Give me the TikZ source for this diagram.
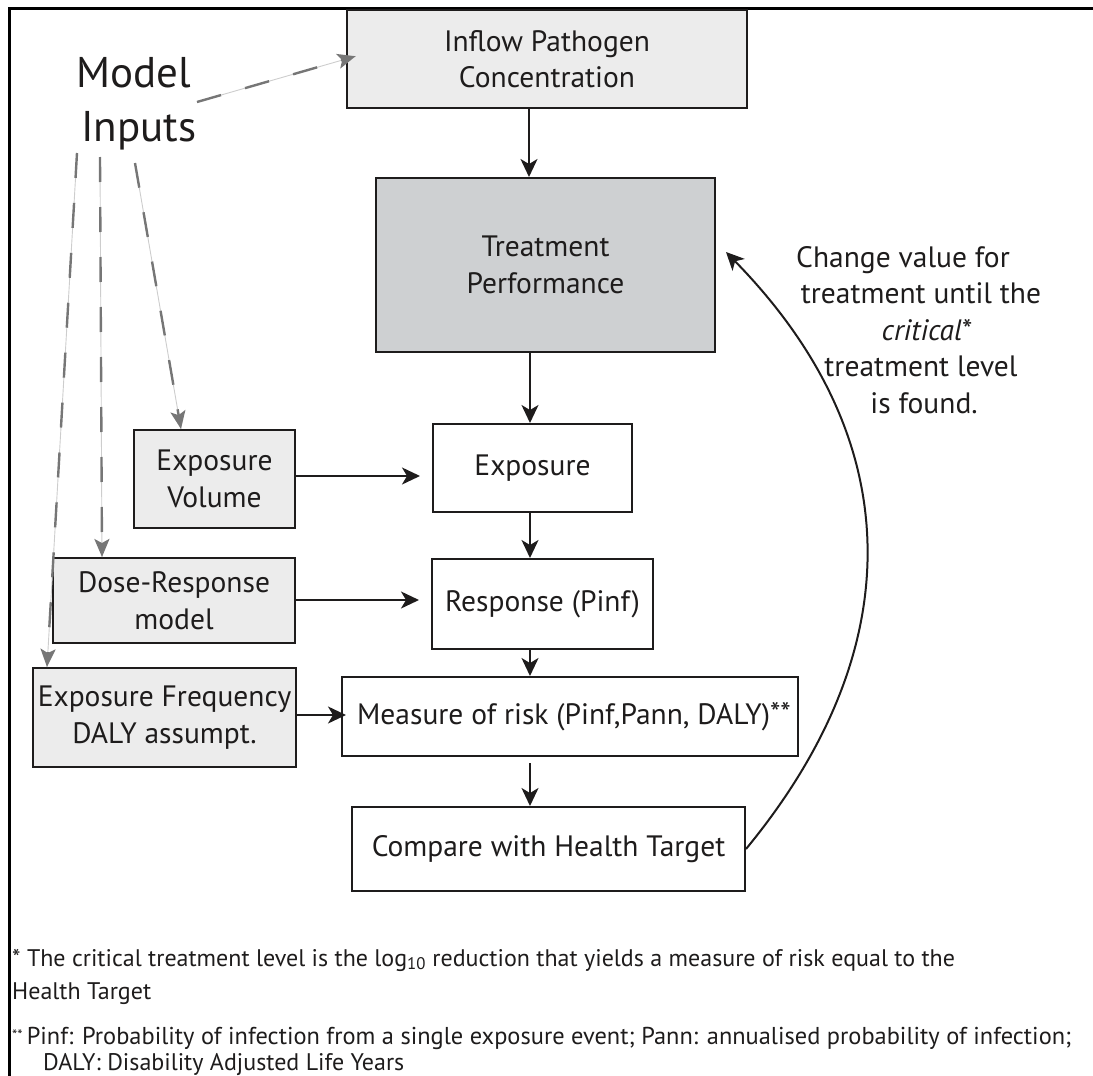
\documentclass[tikz,border=0pt]{standalone}
\usepackage{fontspec}
\setmainfont{PT Sans}
\usetikzlibrary{arrows.meta,calc}
\definecolor{boxfill}{RGB}{236,236,236}
\definecolor{tfill}{RGB}{206,208,210}
\definecolor{ink}{RGB}{30,28,28}
\definecolor{dashgray}{RGB}{118,118,118}
\definecolor{linegray}{RGB}{205,205,205}
\begin{document}
\begin{tikzpicture}[x=1pt,y=-1pt,
  box/.style={draw=ink, line width=2pt, inner sep=0pt, align=center, text=ink,
    font=\fontsize{29.5}{36.5}\selectfont},
  inbox/.style={box, fill=boxfill},
  flow/.style={draw=ink, line width=2pt, -{Stealth[length=18pt,width=17pt,inset=5pt]}},
  inarrow/.style={draw=dashgray, line width=2.4pt, dash pattern=on 25pt off 25pt,
    -{Stealth[length=18pt,width=15pt,inset=4pt,fill=dashgray]},
    preaction={draw=linegray, line width=0.9pt, solid, -}},
  fnote/.style={anchor=base west, inner sep=0pt, text=ink, font=\fontsize{24}{28}\selectfont}
]
\useasboundingbox (0,0) rectangle (1093,1076);
\begin{scope}
\clip (0,0) rectangle (1093,1076);
\draw[line width=3pt, black] (9.5,1100) -- (9.5,8.5) -- (1120,8.5);

% boxes
\node[inbox, minimum width=400pt, minimum height=98pt] (inflow) at (547,59) {Inflow Pathogen\\Concentration};
\node[box, fill=tfill, minimum width=339pt, minimum height=174pt] (treat) at (545.5,265) {Treatment\\Performance};
\node[inbox, minimum width=161pt, minimum height=98pt] (expvol) at (214.5,479) {Exposure\\Volume};
\node[inbox, minimum width=242pt, minimum height=85pt] (dose) at (174,600.5) {Dose-Response\\model};
\node[inbox, minimum width=263pt, minimum height=99pt] (expfreq) at (164.5,717.5) {Exposure Frequency\\DALY assumpt.};
\node[box, fill=white, minimum width=199pt, minimum height=88pt] (expo) at (532.5,468) {Exposure};
\node[box, fill=white, minimum width=221pt, minimum height=90pt] (resp) at (542.5,604) {Response (Pinf)};
\node[box, fill=white, minimum width=456pt, minimum height=79pt] (measure) at (570,716.5) {\hspace*{8pt}Measure of risk (Pinf,Pann, DALY)\raisebox{1pt}{**}};
\node[box, fill=white, minimum width=393pt, minimum height=84pt] (compare) at (548.5,849) {Compare with Health Target};

% model inputs label
\node[align=center, inner sep=0pt, text=ink, font=\fontsize{43}{54}\selectfont] (mi) at (134,104) {Model\\\hspace*{10pt}Inputs};
\coordinate (s1) at (197,102);
\coordinate (s2) at (77,153);
\coordinate (s3) at (100,157);
\coordinate (s4) at (135,163);

% dashed input arrows
\draw[inarrow, shorten >=-10pt] (s1) -- (inflow.west);
\draw[inarrow] (s2) -- ([xshift=15pt]expfreq.north west);
\draw[inarrow] (s3) -- ([xshift=50pt]dose.north west);
\draw[inarrow] (s4) -- ([xshift=48pt]expvol.north west);

% main flow
\draw[flow] (inflow.south -| 529,0) -- (treat.north -| 529,0);
\draw[flow] (treat.south -| 530,0) -- (expo.north -| 530,0);
\draw[flow] (expo.south -| 530,0) -- (resp.north -| 530,0);
\draw[flow] (resp.south -| 530,0) -- (measure.north -| 530,0);
\draw[flow, shorten <=6pt] (measure.south -| 530,0) -- (compare.north -| 530,0);

\draw[flow, shorten >=12pt] (expvol.east |- 0,476) -- (expo.west |- 0,476);
\draw[flow, shorten >=12pt] (dose.east |- 0,600) -- (resp.west |- 0,600);
\draw[flow, shorten >=-5pt] (expfreq.east |- 0,715) -- (measure.west |- 0,715);

% feedback curve
\draw[flow] (compare.east) .. controls (910,650) and (910,440) .. ([shift={(10,-13)}]treat.east);
\node[align=center, inner sep=0pt, text=ink, font=\fontsize{29.5}{36.6}\selectfont] (note) at (921,330)
  {Change value for\hspace*{36pt}\\treatment until the\\\hspace*{12pt}\textit{critical}*\\treatment level\\\hspace*{6pt}is found.};

% footnotes
\node[fnote] (fn1) at (12,966) {* The critical treatment level is the log\textsubscript{10} reduction that yields a measure of risk equal to the};
\node[fnote] (fn1b) at (12,999) {Health Target};
\node[fnote, font=\fontsize{24.4}{28}\selectfont] (fn2) at (12,1044) {\raisebox{4pt}{\fontsize{15}{15}\selectfont **}\,Pinf: Probability of infection from a single exposure event; Pann: annualised probability of infection;};
\node[fnote] (fn2b) at (43,1070) {DALY: Disability Adjusted Life Years};
\end{scope}
\end{tikzpicture}
\end{document}
